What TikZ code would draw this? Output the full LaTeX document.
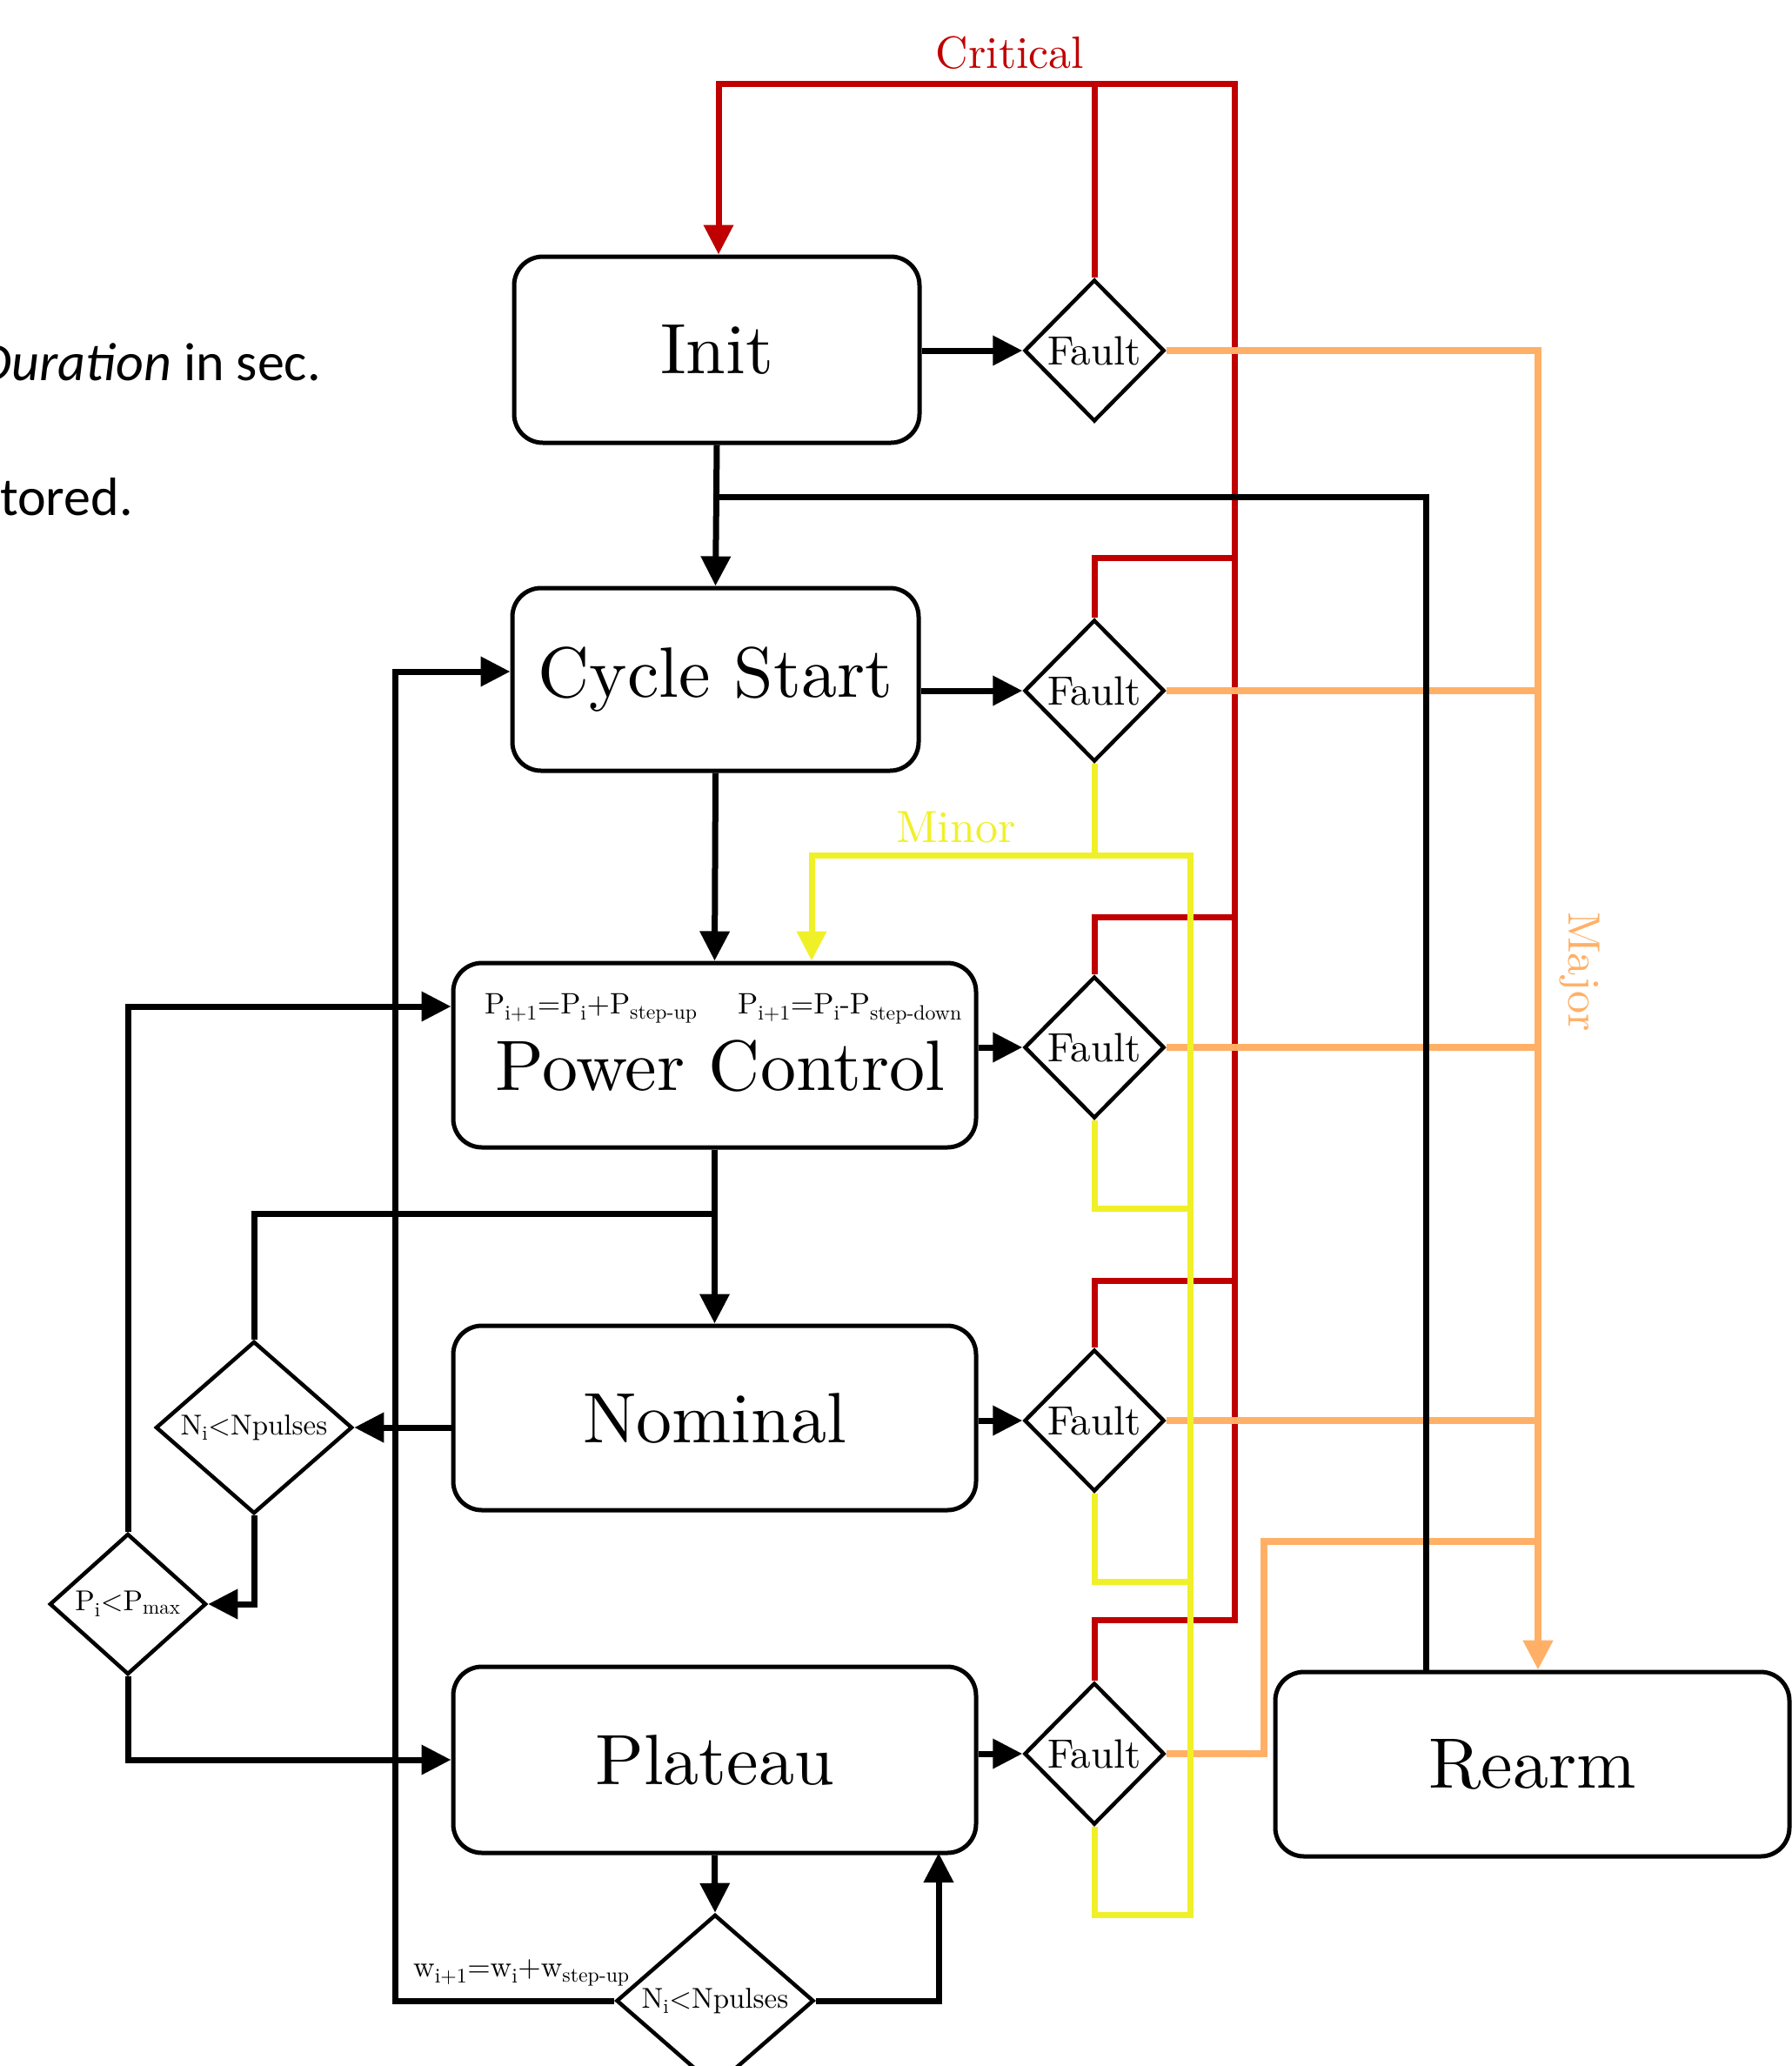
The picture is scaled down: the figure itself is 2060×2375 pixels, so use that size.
\documentclass[tikz,border=0pt]{standalone}
\usepackage{fontspec}
\setmainfont{lmroman10-regular.otf}[ItalicFont=lmroman10-italic.otf, BoldFont=lmroman10-bold.otf]
\newfontfamily\calibri{Carlito}
\usetikzlibrary{shapes.geometric,arrows.meta}
\definecolor{critc}{RGB}{192,0,0}
\definecolor{minorc}{RGB}{240,240,40}
\definecolor{majorc}{RGB}{255,176,102}
\newcommand{\setfs}[1]{\fontsize{#1pt}{#1pt}\selectfont}
\begin{document}
\begin{tikzpicture}[x=1pt,y=-1pt,
  box/.style={draw, line width=5pt, rounded corners=33pt, minimum width=#1, minimum height=212pt, inner sep=0pt, font=\setfs{82}, fill=white},
  fault/.style={diamond, draw, line width=4.5pt, minimum width=161pt, minimum height=163pt, inner sep=0pt, font=\setfs{47}, fill=white},
  dec/.style={diamond, draw, line width=4.5pt, inner sep=0pt, font=\setfs{33}, fill=white},
  lbl/.style={inner sep=0pt},
  arr/.style={-{Triangle[length=34pt,width=33pt]}},
  blk/.style={draw=black, line width=7pt},
  critl/.style={draw=critc, line width=7pt},
  minl/.style={draw=minorc, line width=7pt},
  majl/.style={draw=majorc, line width=8pt}
]
\useasboundingbox (0,0) rectangle (2060,2375);
\clip (0,0) rectangle (2060,2375);

% left cut-off text
\node[lbl, anchor=base east, font=\calibri\setfs{62}] (dur) at (369,437) {\textit{Duration} in sec.};
\node[lbl, anchor=base east, font=\calibri\setfs{62}] (tor) at (153,592) {tored.};

% boxes
\node[box=466pt, minimum height=214pt] (init) at (824,402) {Init};
\node[box=467pt, minimum height=210pt] (cs) at (822.5,781) {Cycle Start};
\node[box=601pt] (pc) at (821.5,1213) {};
\node[box=601pt] (nom) at (821.5,1630) {Nominal};
\node[box=601pt, minimum height=214pt] (plat) at (821.5,2023) {Plateau};
\node[box=591pt] (rearm) at (1761.5,2028) {Rearm};

\node[lbl, anchor=base, font=\setfs{82}] (pctitle) at (828,1253) {Power Control};
\node[lbl, anchor=base west, font=\setfs{34}] (pup) at (557,1165) {P\textsubscript{i+1}=P\textsubscript{i}+P\textsubscript{step-up}};
\node[lbl, anchor=base west, font=\setfs{34}] (pdown) at (848,1165) {P\textsubscript{i+1}=P\textsubscript{i}-P\textsubscript{step-down}};

% fault diamonds
\node[fault] (f1) at (1258,403) {Fault};
\node[fault] (f2) at (1258,794) {Fault};
\node[fault] (f3) at (1258,1204) {Fault};
\node[fault] (f4) at (1258,1633) {Fault};
\node[fault] (f5) at (1258,2016) {Fault};

% decision diamonds
\node[dec, minimum width=226pt, minimum height=195pt] (nd1) at (292,1641) {N\textsubscript{i}<Npulses};
\node[dec, minimum width=180pt, minimum height=162pt] (pd) at (147,1844) {P\textsubscript{i}<P\textsubscript{max}};
\node[dec, minimum width=227pt, minimum height=194pt] (nd2) at (822,2300) {N\textsubscript{i}<Npulses};

% labels
\node[lbl, anchor=base, font=\setfs{52}, text=critc] (crit) at (1161,78) {Critical};
\node[lbl, anchor=base, font=\setfs{52}, text=minorc] (minl) at (1099,968) {Minor};
\node[lbl, rotate=-90, font=\setfs{52}, text=majorc] (majl) at (1816,1117) {Major};
\node[lbl, anchor=base west, font=\setfs{34}] (wlab) at (475,2272) {w\textsubscript{i+1}=w\textsubscript{i}+w\textsubscript{step-up}};

% coordinates
\coordinate (rt) at (1419,96);
\coordinate (rb) at (1419,1862);
\coordinate (rl) at (826,96);
\coordinate (r2) at (1419,641);
\coordinate (r3) at (1419,1054);
\coordinate (r4) at (1419,1472);
\coordinate (yl) at (933,983);
\coordinate (yr) at (1368,983);
\coordinate (yb) at (1368,2201);
\coordinate (y3) at (1368,1389);
\coordinate (y4) at (1368,1818);
\coordinate (ot) at (1768,403);
\coordinate (o5a) at (1453,1772);
\coordinate (o5b) at (1768,1772);
\coordinate (j1) at (823,571);
\coordinate (j2) at (822,1395);
\coordinate (lx) at (454,772);
\coordinate (rx) at (1079,2130);

% red (critical)
\draw[critl,arr] (f5.north) |- (rb) -- (rt) -- (rl) -- (rl |- init.north);
\draw[critl] (f1.north) -- (f1.north |- rt);
\draw[critl] (f2.north) |- (r2);
\draw[critl] (f3.north) |- (r3);
\draw[critl] (f4.north) |- (r4);

% orange (major)
\draw[majl,arr] (f1.east) -- (ot) -- (ot |- rearm.north);
\draw[majl] (f2.east) -- (f2.east -| ot);
\draw[majl] (f3.east) -- (f3.east -| ot);
\draw[majl] (f4.east) -- (f4.east -| ot);
\draw[majl] (f5.east) -| (o5a) -- (o5b);

% yellow (minor)
\draw[minl,arr] (f5.south) |- (yb) -- (yr) -- (yl) -- (yl |- pc.north);
\draw[minl] (f2.south) -- (f2.south |- yl);
\draw[minl] (f3.south) |- (y3);
\draw[minl] (f4.south) |- (y4);

% black connectors
\draw[blk,arr] (init.east |- f1.west) -- (f1.west);
\draw[blk,arr] (init.south) -- (cs.north);
\draw[blk] ([xshift=-122.5pt]rearm.north) |- (j1);
\draw[blk,arr] (cs.east |- f2.west) -- (f2.west);
\draw[blk,arr] (cs.south) -- (pc.north);
\draw[blk,arr] (nd2.west) -| (lx) -- (lx -| cs.west);
\draw[blk,arr] (pd.north) |- ([yshift=56pt]pc.west);
\draw[blk,arr] (pd.south) |- (plat.west);
\draw[blk,arr] (pc.south) -- (nom.north);
\draw[blk] (j2) -| (nd1.north);
\draw[blk,arr] (nom.west |- nd1.east) -- (nd1.east);
\draw[blk,arr] (nd1.south) |- (pd.east);
\draw[blk,arr] (pc.east |- f3.west) -- (f3.west);
\draw[blk,arr] (nom.east |- f4.west) -- (f4.west);
\draw[blk,arr] (plat.east |- f5.west) -- (f5.west);
\draw[blk,arr] (plat.south) -- (nd2.north);
\draw[blk,arr] (nd2.east) -| (rx);
\end{tikzpicture}
\end{document}
